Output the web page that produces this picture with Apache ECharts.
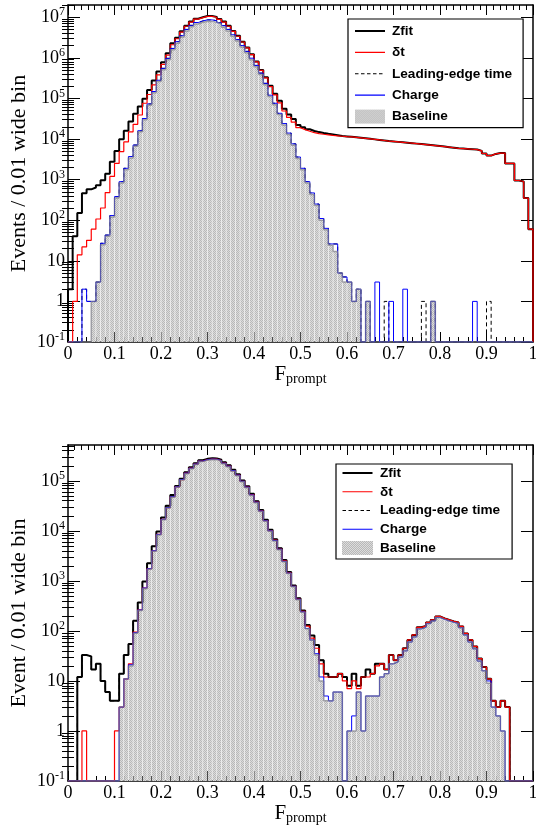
<!DOCTYPE html>
<html><head><meta charset="utf-8">
<script src="https://cdn.jsdelivr.net/npm/echarts@6/dist/echarts.min.js"></script>
<style>html,body{margin:0;padding:0;background:#fff}#c{width:536px;height:830px}</style>
</head><body><div id="c"></div>
<script>
// ---------------- data ----------------
const nBins = 100, binWidth = 0.01;
const binLow = Array.from({length: nBins}, (_, i) => +(i * binWidth).toFixed(2));
const xTickLabels = ['0','0.1','0.2','0.3','0.4','0.5','0.6','0.7','0.8','0.9','1'];
const yMajorTop = [0.1, 1, 10, 100, 1e3, 1e4, 1e5, 1e6, 1e7];
const yMajorBot = [0.1, 1, 10, 100, 1e3, 1e4, 1e5];
const legendNames = ['Zfit', 'δt', 'Leading-edge time', 'Charge', 'Baseline'];

// top panel
const zfitTop = [
2,40,150,460,575,640,730,970,1400,2750,
5100,9800,16000,27000,42000,63000,98000,162000,275000,460000,
780000,1300000,2300000,3100000,4500000,6200000,7800000,9200000,10000000,10700000,
10700000,10200000,9100000,7800000,6200000,4600000,3500000,2500000,1800000,1230000,
810000,500000,330000,205000,130000,87000,56000,40000,31000,22000,
19500,17400,15800,14800,14000,13400,12900,12400,11900,11600,
11300,11000,10700,10400,10100,9800,9500,9200,8900,8700,
8500,8300,8100,7900,7700,7500,7300,7100,6900,6700,
6500,6300,6100,5900,5800,5700,5600,5500,5100,4400,
3900,4300,4500,4500,2500,2500,950,900,350,60];
const dtTop = [
0,1,14,22,32,60,107,200,480,1200,
2500,4900,8500,15000,23000,39000,76000,125000,215000,380000,
690000,1170000,2100000,2950000,4300000,6000000,7600000,9000000,9800000,10500000,
10500000,10000000,8900000,7600000,6000000,4500000,3400000,2450000,1760000,1200000,
790000,490000,320000,195000,122000,78000,49000,34000,26000,19000,
17000,15500,14300,13600,13100,12700,12300,12000,11700,11400,
11300,11000,10700,10400,10100,9800,9500,9200,8900,8700,
8500,8300,8100,7900,7700,7500,7300,7100,6900,6700,
6500,6300,6100,5900,5800,5700,5600,5500,5100,4400,
3900,4300,4500,4500,2500,2500,950,900,350,60];
const leTop = [
0,0,0,2,1,1,3,27,43,130,
380,890,1900,3700,7100,16000,32000,73000,148000,280000,
550000,970000,1700000,2500000,3500000,5000000,6300000,7400000,8100000,8600000,
8600000,8200000,7300000,6200000,5000000,3700000,2800000,2000000,1440000,980000,
650000,420000,235000,120000,76000,43000,24000,14000,7600,3600,
1900,890,470,250,110,63,26,26,5,4,
3,1,2,0,1,0,0,0,1,0,
0,0,0,0,0,0,1,0,1,0,
0,0,0,0,0,0,0,0,0,0,
1,0,0,0,0,0,0,0,0,0];
const chargeTop = [
0,0,0,2,1,1,3,27,43,130,
380,890,1900,3700,7100,16000,32000,73000,148000,280000,
550000,970000,1700000,2500000,3500000,5000000,6300000,7400000,8100000,8600000,
8600000,8200000,7300000,6200000,5000000,3700000,2800000,2000000,1440000,980000,
650000,420000,235000,120000,76000,43000,24000,14000,7600,3600,
1900,890,470,250,110,63,26,26,5,4,
3,1,2,0,1,0,3,0,0,1,
0,0,2,0,0,0,0,0,1,0,
0,0,0,0,0,0,0,1,0,0,
0,0,0,0,0,0,0,0,0,0];
const baselineTop = [
0,0,0,0,0,1,3,25,40,120,
350,820,1750,3400,6600,15000,30000,68000,138000,260000,
510000,900000,1580000,2300000,3250000,4600000,5800000,6800000,7500000,7900000,
7900000,7500000,6700000,5700000,4600000,3400000,2600000,1850000,1330000,900000,
600000,390000,218000,112000,70000,40000,22000,13000,7000,3300,
1750,820,430,230,100,58,24,17,5,3,
3,1,2,0,1,0,0,0,0,0,
0,0,0,0,0,0,0,0,1,0,
0,0,0,0,0,0,0,0,0,0,
0,0,0,0,0,0,0,0,0,0];

// bottom panel
const zfitBottom = [
0,0,12,33,31,17,22,10,6,4,
4,14,33,55,160,370,970,2240,4900,9700,
18500,31600,52000,79000,110000,148000,186000,224000,257000,275000,
282000,280000,263000,234000,204000,166000,135000,102000,78000,55000,
39000,26000,16600,10500,6800,4500,2600,1500,810,450,
255,132,81,52,26,14,12,12,14,12,
8,14,8,12,17,14,22,22,17,33,
26,33,45,66,83,118,126,148,166,195,
178,166,155,148,123,89,66,49,28,19,
11,4,3,4,3,0,0,0,0,0];
const dtBottom = [
0,0,0,1,0,0,0,0,0,0,
1,3,11,22,95,265,720,1750,4000,8500,
17000,29000,48000,76000,106000,142000,179000,216000,248000,266000,
273000,271000,254000,226000,197000,160000,130000,98000,75000,53000,
37500,25000,16000,10100,6500,4300,2500,1440,780,430,
245,125,72,45,22,12,12,12,14,10,
7,10,7,12,12,14,20,22,17,33,
26,33,45,66,83,118,126,148,166,195,
178,166,155,148,123,89,66,49,28,19,
11,4,3,4,3,0,0,0,0,0];
const leBottom = [
0,0,12,33,31,17,22,10,6,4,
4,14,33,55,160,370,970,2240,4900,9700,
18500,31600,52000,79000,110000,148000,186000,224000,257000,275000,
282000,280000,263000,234000,204000,166000,135000,102000,78000,55000,
39000,26000,16600,10500,6800,4500,2600,1500,810,450,
255,132,81,52,26,14,12,12,14,12,
8,14,8,12,17,14,22,22,17,33,
26,33,45,66,83,118,126,148,166,195,
178,166,155,148,123,89,66,49,28,19,
11,4,3,4,3,0,0,0,0,0];
const chargeBottom = [
0,0,0,0,0,0,0,0,0,0,
0,3,11,21,92,262,720,1750,4000,8500,
17000,29200,48200,75800,106500,142500,179000,216000,248000,265000,
272000,270000,254000,225000,196500,160000,130000,98000,74800,52200,
37400,24900,15900,10000,6450,4300,2460,1430,780,430,
240,112,66,35,12,5,4,6,6,0,
1,2,6,1,5,5,5,12,14,22,
24,30,40,60,76,110,118,140,158,185,
170,158,148,140,116,83,60,44,25,16,
10,3,2,1,0,0,0,0,0,0];
const baselineBottom = [
0,0,0,0,0,0,0,0,0,0,
0,3,11,20,90,255,700,1700,3900,8300,
16600,28500,47000,74000,104000,139000,175000,211000,242000,259000,
266000,264000,248000,220000,192000,156000,127000,96000,73000,51000,
36500,24300,15500,9800,6300,4200,2400,1400,760,420,
235,110,65,33,10,4,4,6,6,0,
1,1,6,1,5,5,5,12,14,22,
24,30,40,60,76,110,118,140,158,185,
170,158,148,140,116,83,60,44,25,16,
9,3,2,1,0,0,0,0,0,0];

// ---------------- styling helpers ----------------
const serif = "'Liberation Serif','Times New Roman',serif";
const sans = "'Liberation Sans',Arial,Helvetica,sans-serif";
const yMinTop = 0.1, yMaxTop = 2e7, yMinBot = 0.1, yMaxBot = 5.2e5;

const pc = document.createElement('canvas'); pc.width = 4; pc.height = 4;
const g = pc.getContext('2d');
g.fillStyle = '#dcdcdc'; g.fillRect(0, 0, 4, 4);
g.fillStyle = '#b8b8b8';
for (let yy = 0; yy < 4; yy++) for (let xx = 0; xx < 4; xx++) if ((xx + yy) % 2 === 0) g.fillRect(xx, yy, 1, 1);
const pattern = {type: 'pattern', image: pc, repeat: 'repeat'};

// legend icons (a line inside a 30x14 box)
function solidIcon(th) {
  const a = (7 - th / 2).toFixed(2), b = (7 + th / 2).toFixed(2);
  return 'path://M0,0L30,0L30,0Z M0,' + a + 'L30,' + a + 'L30,' + b + 'L0,' + b + 'Z M0,14L30,14L30,14Z';
}
function dashedIcon() {
  let p = 'path://M0,0L30,0L30,0Z';
  for (let x = 0; x < 30; x += 6) p += ' M' + x + ',6.5L' + (x + 3.5) + ',6.5L' + (x + 3.5) + ',7.5L' + x + ',7.5Z';
  return p + ' M0,14L30,14L30,14Z';
}
const legendIcons = {
  'Zfit': {icon: solidIcon(2), color: '#000000'},
  'δt': {icon: solidIcon(1.2), color: '#ff0000'},
  'Leading-edge time': {icon: dashedIcon(), color: '#000000'},
  'Charge': {icon: solidIcon(1.2), color: '#0000ff'}
};

function minorVals(maxV) {
  const out = [];
  for (let e = -1; e <= 8; e++) for (let k = 2; k <= 9; k++) {
    const v = +(k * Math.pow(10, e)).toPrecision(3);
    if (v <= maxV) out.push(v);
  }
  return out;
}
function logLabel(v) {
  const l = Math.log10(v), e = Math.round(l);
  if (Math.abs(l - e) > 1e-6) return '';
  if (e === 0) return '{n|1}';
  if (e === 1) return '{n|10}';
  return '{n|10}{s|' + e + '}';
}
function stepLine(vals, floor) {
  const pts = [[0, floor]];
  vals.forEach((v, i) => pts.push([binLow[i], v > 0 ? v : floor]));
  const last = vals[vals.length - 1];
  pts.push([1, last > 0 ? last : floor]);
  pts.push([1, floor]);
  return pts;
}
function makeRender(floor) {
  return function (params, api) {
    const x0 = api.value(0), v = api.value(1);
    if (!(v > 0)) return null;
    const p0 = api.coord([x0, v]);
    const p1 = api.coord([x0 + binWidth, floor]);
    return {type: 'rect', shape: {x: p0[0] + 0.3, y: p0[1], width: p1[0] - p0[0] - 0.6, height: p1[1] - p0[1]},
      style: {fill: pattern}};
  };
}
function xAxes(grid) {
  const line = {show: true, onZero: false, lineStyle: {color: '#000', width: 1.5}};
  return [
    {gridIndex: grid, type: 'value', min: 0, max: 1, interval: 0.1, position: 'bottom',
     axisLine: line,
     axisTick: {show: true, inside: true, length: 10, lineStyle: {color: '#000', width: 1}},
     minorTick: {show: true, splitNumber: 5, length: 5, lineStyle: {color: '#000', width: 1}},
     axisLabel: {formatter: v => xTickLabels[Math.round(v * 10)], fontFamily: serif, fontSize: 18, color: '#000', margin: 3},
     splitLine: {show: false}, minorSplitLine: {show: false},
     name: '{f|F}{p|prompt}', nameLocation: 'middle', nameGap: 20, nameMoveOverlap: false,
     nameTextStyle: {rich: {
       f: {fontFamily: serif, fontSize: 21, color: '#000', lineHeight: 24},
       p: {fontFamily: serif, fontSize: 14, color: '#000', verticalAlign: 'bottom', lineHeight: 15}}}},
    {gridIndex: grid, type: 'value', min: 0, max: 1, interval: 0.1, position: 'top',
     axisLine: line,
     axisTick: {show: true, inside: true, length: 10, lineStyle: {color: '#000', width: 1}},
     minorTick: {show: true, splitNumber: 7, length: 5, lineStyle: {color: '#000', width: 1}},
     axisLabel: {show: false}, splitLine: {show: false}, minorSplitLine: {show: false}}
  ];
}
function yAxes(grid, maxV, majors, title) {
  const minors = minorVals(maxV);
  const base = {gridIndex: grid, type: 'log', logBase: 10, min: 0.1, max: maxV,
    splitLine: {show: false}, minorTick: {show: false}, minorSplitLine: {show: false}};
  const line = {show: true, onZero: false, lineStyle: {color: '#000', width: 1.5}};
  const tk = (len, vals) => ({show: true, inside: true, length: len, customValues: vals, lineStyle: {color: '#000', width: 1}});
  return [
    Object.assign({}, base, {position: 'left', axisLine: line, axisTick: tk(12, majors),
      axisLabel: {show: true, customValues: majors, formatter: logLabel, margin: 3,
        rich: {n: {fontFamily: serif, fontSize: 18, color: '#000', lineHeight: 22},
               s: {fontFamily: serif, fontSize: 12, color: '#000', verticalAlign: 'top', lineHeight: 14}}},
      name: title, nameLocation: 'middle', nameGap: 38, nameMoveOverlap: false,
      nameTextStyle: {fontFamily: serif, fontSize: 22, color: '#000'}}),
    Object.assign({}, base, {position: 'left', axisLine: {show: false}, axisTick: tk(6, minors), axisLabel: {show: false}}),
    Object.assign({}, base, {position: 'right', axisLine: line, axisTick: tk(12, majors), axisLabel: {show: false}}),
    Object.assign({}, base, {position: 'right', axisLine: {show: false}, axisTick: tk(6, minors), axisLabel: {show: false}})
  ];
}
function panelSeries(xi, yi, floor, d) {
  const ln = (name, vals, ls) => ({type: 'line', name, xAxisIndex: xi, yAxisIndex: yi, step: 'end',
    symbol: 'none', showSymbol: false, silent: true, data: stepLine(vals, floor), lineStyle: ls,
    itemStyle: {color: ls.color}, z: 3});
  return [
    {type: 'custom', name: 'Baseline', xAxisIndex: xi, yAxisIndex: yi, silent: true, clip: true, z: 2,
     renderItem: makeRender(floor), itemStyle: {color: pattern},
     data: binLow.map((x, i) => [x, d.bl[i]])},
    ln('Zfit', d.zf, {color: '#000000', width: 2}),
    ln('Leading-edge time', d.le, {color: '#000000', width: 1, type: [4, 3]}),
    ln('δt', d.dt, {color: '#ff0000', width: 1.2}),
    ln('Charge', d.ch, {color: '#0000ff', width: 1}),
    ln('Baseline outline', d.bl, {color: 'rgba(125,125,135,0.7)', width: 1.5})
  ];
}
function legendFor(left, top, padding, gap, iw) {
  return {left, top, orient: 'vertical', padding, itemGap: gap, itemWidth: iw, itemHeight: 14,
    backgroundColor: '#fff', borderColor: '#000', borderWidth: 1.2, borderRadius: 0,
    selectedMode: false, z: 10,
    textStyle: {fontFamily: sans, fontWeight: 'bold', fontSize: 13.6, color: '#000', lineHeight: 14, padding: [0, 0, 0, 2]},
    data: legendNames.map(n => n === 'Baseline'
      ? {name: n, icon: 'rect', itemStyle: {color: pattern, borderWidth: 0}}
      : {name: n, icon: legendIcons[n].icon, itemStyle: {color: legendIcons[n].color, borderWidth: 0}})};
}

const chart = echarts.init(document.getElementById('c'), null, {renderer: 'canvas', width: 536, height: 830});
chart.setOption({
  animation: false,
  backgroundColor: '#fff',
  grid: [
    {left: 68, top: 5, width: 465, height: 337, outerBoundsMode: 'none', containLabel: false},
    {left: 68, top: 445, width: 465, height: 336, outerBoundsMode: 'none', containLabel: false}
  ],
  xAxis: [...xAxes(0), ...xAxes(1)],
  yAxis: [...yAxes(0, yMaxTop, yMajorTop, 'Events / 0.01 wide bin'), ...yAxes(1, yMaxBot, yMajorBot, 'Event / 0.01 wide bin')],
  legend: [legendFor(348, 19, [5, 11, 4, 7], 7.4, 30), legendFor(336, 464, [2, 12, 4, 6], 4.75, 31)],
  series: [
    ...panelSeries(0, 0, yMinTop, {zf: zfitTop, dt: dtTop, le: leTop, ch: chargeTop, bl: baselineTop}),
    ...panelSeries(2, 4, yMinBot, {zf: zfitBottom, dt: dtBottom, le: leBottom, ch: chargeBottom, bl: baselineBottom})
  ]
});
</script></body></html>
